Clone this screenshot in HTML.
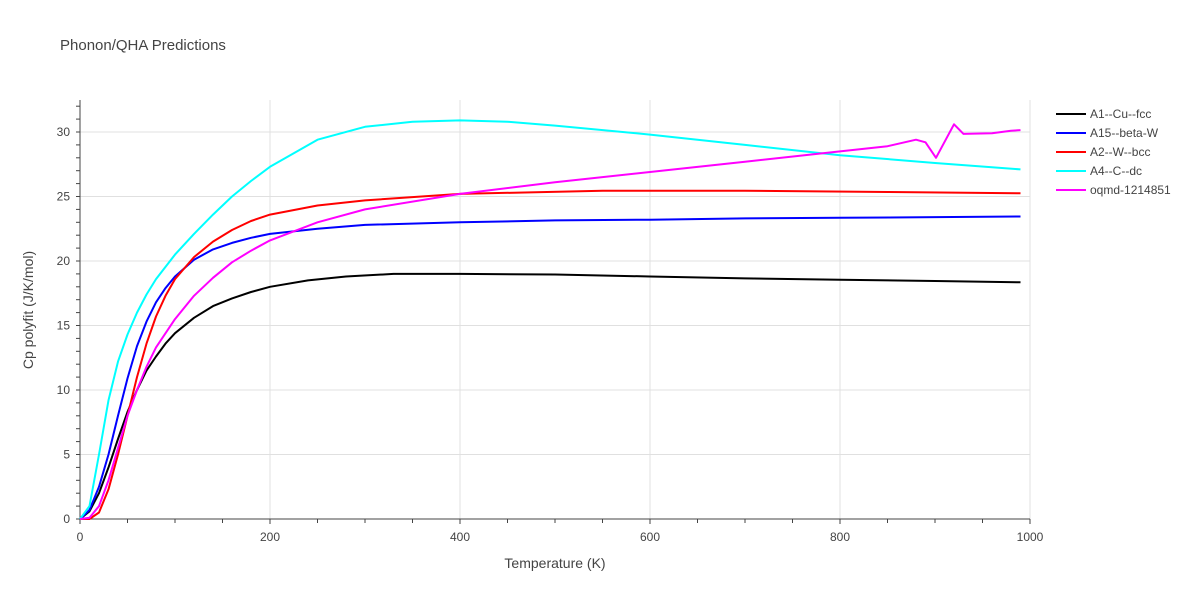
<!DOCTYPE html>
<html><head><meta charset="utf-8"><style>
body{margin:0;background:#fff;font-family:"Liberation Sans",sans-serif;}
svg text{font-family:"Liberation Sans",sans-serif;fill:#444;}
</style></head><body>
<svg id="chart" width="1200" height="600" xmlns="http://www.w3.org/2000/svg">
<rect width="1200" height="600" fill="#fff"/>
<text x="60" y="50" font-size="15">Phonon/QHA Predictions</text>
<g id="grid"></g><g id="axes"></g><g id="series"></g><g id="legend"></g>
<text x="555" y="568" font-size="14" text-anchor="middle">Temperature (K)</text>
<text transform="translate(33,310) rotate(-90)" font-size="14" text-anchor="middle">Cp polyfit (J/K/mol)</text>
</svg>
<script>
const names=["A1--Cu--fcc","A15--beta-W","A2--W--bcc","A4--C--dc","oqmd-1214851"];
const colors=["#000000","#0000ff","#ff0000","#00ffff","#ff00ff"];
const xTicks=[0,200,400,600,800,1000];
const yTicks=[0,5,10,15,20,25,30];
const blackT=[0,10,20,30,40,50,60,70,80,90,100,120,140,160,180,200,240,280,330,400,500,600,700,800,900,990];
const blackCp=[0,0.6,2,4,6.2,8.3,10,11.5,12.6,13.6,14.4,15.6,16.5,17.1,17.6,18,18.5,18.8,19,19,18.95,18.8,18.65,18.55,18.45,18.35];
const blueT=[0,10,20,30,40,50,60,70,80,90,100,120,140,160,180,200,250,300,400,500,600,700,800,990];
const blueCp=[0,0.7,2.5,5,8,10.9,13.4,15.3,16.8,17.9,18.8,20.1,20.9,21.4,21.8,22.1,22.5,22.8,23,23.15,23.2,23.3,23.35,23.45];
const redT=[0,10,20,30,40,50,60,70,80,90,100,120,140,160,180,200,250,300,400,550,700,850,990];
const redCp=[0,0,0.5,2.3,5,8,11,13.6,15.7,17.3,18.6,20.3,21.5,22.4,23.1,23.6,24.3,24.7,25.2,25.45,25.45,25.35,25.25];
const cyanT=[0,10,20,30,40,50,60,70,80,100,120,140,160,180,200,250,300,350,400,450,500,600,700,800,900,990];
const cyanCp=[0,1,5,9.2,12.2,14.3,16,17.4,18.6,20.5,22.1,23.6,25,26.2,27.3,29.4,30.4,30.8,30.9,30.8,30.5,29.8,29,28.2,27.6,27.1];
const magT=[0,10,20,30,40,50,60,70,80,100,120,140,160,180,200,250,300,400,500,600,700,800,850,880,890,901,920,930,960,980,990];
const magCp=[0,0.1,1,3,5.5,8,10,11.8,13.3,15.5,17.3,18.7,19.9,20.8,21.6,23,24,25.2,26.1,26.9,27.7,28.5,28.9,29.4,29.2,28,30.6,29.85,29.9,30.1,30.15];
const seriesT=[blackT,blueT,redT,cyanT,magT];
const seriesCp=[blackCp,blueCp,redCp,cyanCp,magCp];
const X0=80,X1=1030,Y0=519,Y30=132;
const sx=v=>X0+(X1-X0)*v/1000;
const sy=v=>Y0-(Y0-Y30)*v/30;
const NS="http://www.w3.org/2000/svg";
function mk(tag,attrs,parent){const e=document.createElementNS(NS,tag);for(const k in attrs)e.setAttribute(k,attrs[k]);parent.appendChild(e);return e;}
const grid=document.getElementById('grid'),axes=document.getElementById('axes'),ser=document.getElementById('series'),leg=document.getElementById('legend');
xTicks.forEach(t=>{
 if(t>0){const l=mk('line',{x1:sx(t),x2:sx(t),y1:100,y2:Y0,stroke:'#e0e0e0'},grid);
 
 }
 const tx=mk('text',{x:sx(t),y:541,'font-size':12,'text-anchor':'middle'},axes);tx.textContent=t;
 
 
});
for(let t=0;t<=1000;t+=50){const l=mk('line',{x1:sx(t),x2:sx(t),y1:Y0,y2:t%200==0?Y0+5:Y0+4,stroke:'#444'},axes);
 
 }
yTicks.forEach(t=>{
 if(t>0){const l=mk('line',{x1:X0,x2:X1,y1:sy(t),y2:sy(t),stroke:'#e0e0e0'},grid);
 
 }
 const tx=mk('text',{x:70,y:sy(t)+4,'font-size':12,'text-anchor':'end'},axes);tx.textContent=t;
 
 
});
for(let t=0;t<=32;t++){const l=mk('line',{x1:X0-4,x2:X0,y1:sy(t),y2:sy(t),stroke:'#444'},axes);
 
 }
const ax=mk('line',{x1:X0,x2:X1,y1:Y0,y2:Y0,stroke:'#444'},axes);


const ay=mk('line',{x1:X0,x2:X0,y1:100,y2:Y0,stroke:'#444'},axes);


seriesT.forEach((T,i)=>{
 const d=T.map((t,j)=>(j?'L':'M')+sx(t).toFixed(1)+','+sy(seriesCp[i][j]).toFixed(1)).join('');
 const p=mk('path',{d:d,fill:'none',stroke:colors[i],'stroke-width':2,'stroke-linejoin':'round'},ser);
 
 
 const y=114+19*i;
 const g=mk('g',{},leg);
 
 
 mk('line',{x1:1056,x2:1086,y1:y,y2:y,stroke:colors[i],'stroke-width':2},g);
 const tx=mk('text',{x:1090,y:y+4,'font-size':12},g);tx.textContent=names[i];
});
</script>
</body></html>
